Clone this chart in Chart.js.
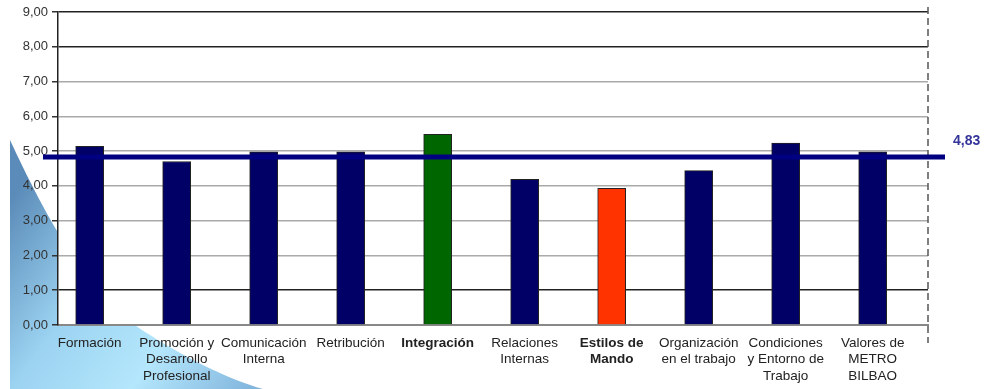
<!DOCTYPE html>
<html>
<head>
<meta charset="utf-8">
<script src="https://cdn.jsdelivr.net/npm/chart.js@4"></script>
<style>
  html, body { margin: 0; padding: 0; background: #fff; }
  #wrap { width: 985px; height: 389px; position: relative; }
</style>
</head>
<body>
<div id="wrap"><canvas id="chart" width="985" height="389"></canvas></div>
<script>
// categorias del eje X (cada elemento = lineas de la etiqueta)
const categories = [
  ['Formación'],
  ['Promoción y', 'Desarrollo', 'Profesional'],
  ['Comunicación', 'Interna'],
  ['Retribución'],
  ['Integración'],
  ['Relaciones', 'Internas'],
  ['Estilos de', 'Mando'],
  ['Organización', 'en el trabajo'],
  ['Condiciones', 'y Entorno de', 'Trabajo'],
  ['Valores de', 'METRO', 'BILBAO']
];
const scores = [5.14, 4.70, 4.98, 4.98, 5.48, 4.19, 3.93, 4.44, 5.23, 4.98];
const barColors = ['#000066', '#000066', '#000066', '#000066', '#006600',
                   '#000066', '#ff3300', '#000066', '#000066', '#000066'];
const boldCategories = [4, 6];
const yTicks = [0, 1, 2, 3, 4, 5, 6, 7, 8, 9];
const darkGridValues = [9, 8, 1];
const average = 4.83;

const fmt = v => v.toFixed(2).replace('.', ',');

// fondo decorativo azul abajo a la izquierda, el area del grafico queda blanca
const decoPlugin = {
  id: 'deco',
  beforeDraw(chart) {
    const { ctx, chartArea } = chart;
    ctx.save();
    const g = ctx.createLinearGradient(10, 200, 270, 389);
    g.addColorStop(0, '#5b8cb9');
    g.addColorStop(0.35, '#9cd3f1');
    g.addColorStop(0.65, '#b4e7fc');
    g.addColorStop(1, '#7aaed8');
    ctx.fillStyle = g;
    ctx.beginPath();
    ctx.moveTo(10, 140);
    ctx.bezierCurveTo(45, 215, 90, 300, 150, 335);
    ctx.bezierCurveTo(190, 360, 230, 380, 263, 389);
    ctx.lineTo(10, 389);
    ctx.closePath();
    ctx.fill();
    ctx.fillStyle = '#fff';
    ctx.fillRect(chartArea.left, chartArea.top, chartArea.right - chartArea.left, chartArea.bottom - chartArea.top);
    ctx.restore();
  }
};

// borde derecho discontinuo y linea de la media
const overlayPlugin = {
  id: 'overlay',
  afterDatasetsDraw(chart) {
    const { ctx, chartArea, scales } = chart;
    ctx.save();
    ctx.strokeStyle = '#555';
    ctx.lineWidth = 1.5;
    ctx.setLineDash([7, 4]);
    ctx.beginPath();
    ctx.moveTo(chartArea.right, chartArea.top - 5);
    ctx.lineTo(chartArea.right, chartArea.bottom + 18);
    ctx.stroke();
    ctx.setLineDash([]);

    const y = scales.y.getPixelForValue(average);
    ctx.strokeStyle = '#000080';
    ctx.lineWidth = 5;
    ctx.beginPath();
    ctx.moveTo(chartArea.left - 15, y);
    ctx.lineTo(chartArea.right + 17, y);
    ctx.stroke();

    ctx.fillStyle = '#333399';
    ctx.font = 'bold 14px "Liberation Sans", Arial, sans-serif';
    ctx.textBaseline = 'middle';
    ctx.textAlign = 'left';
    ctx.fillText(fmt(average), chartArea.right + 25, y - 16);
    ctx.restore();
  }
};

new Chart(document.getElementById('chart'), {
  type: 'bar',
  data: {
    datasets: [{
      data: scores.map((v, i) => ({ x: i, y: v })),
      backgroundColor: barColors,
      borderColor: '#222',
      borderWidth: 1,
      barThickness: 28
    }]
  },
  options: {
    responsive: false,
    animation: false,
    layout: { padding: { top: 12, right: 57, left: 0, bottom: 0 } },
    plugins: { legend: { display: false }, tooltip: { enabled: false } },
    scales: {
      x: {
        type: 'linear',
        offset: false,
        min: -0.364,
        max: 9.636,
        afterBuildTicks: s => { s.ticks = categories.map((c, i) => ({ value: i })); },
        afterFit: s => { s.height = 64; },
        grid: { display: false, drawTicks: false },
        border: { display: true, color: '#888', width: 2, dash: [8, 4] },
        ticks: {
          autoSkip: false,
          maxRotation: 0,
          padding: 10,
          color: '#222',
          font: ctx => ({
            family: '"Liberation Sans", Arial, sans-serif',
            size: 13.5,
            lineHeight: 1.22,
            weight: boldCategories.includes(ctx.tick && ctx.tick.value) ? 'bold' : 'normal'
          }),
          callback: v => categories[v]
        }
      },
      y: {
        min: 0,
        max: 9,
        afterBuildTicks: s => { s.ticks = yTicks.map(v => ({ value: v })); },
        afterFit: s => { s.width = 58; },
        grid: {
          color: ctx => darkGridValues.includes(ctx.tick && ctx.tick.value) ? '#222' : '#aaa',
          lineWidth: 1.5,
          tickColor: '#333',
          tickLength: 6
        },
        border: { display: true, color: '#222', width: 1.5 },
        ticks: {
          padding: 4,
          color: '#333',
          font: { family: '"Liberation Sans", Arial, sans-serif', size: 13 },
          callback: v => fmt(v)
        }
      }
    }
  },
  plugins: [decoPlugin, overlayPlugin]
});
</script>
</body>
</html>
